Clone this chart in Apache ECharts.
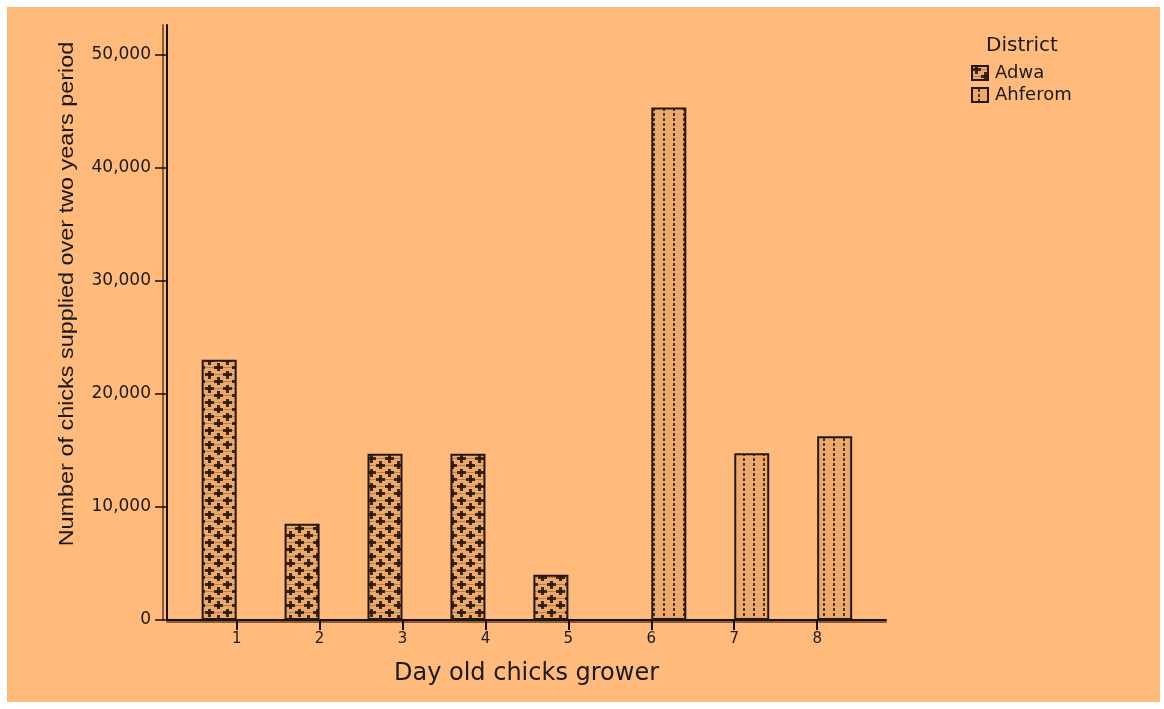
<!DOCTYPE html>
<html>
<head>
<meta charset="utf-8">
<script src="https://cdn.jsdelivr.net/npm/echarts@6/dist/echarts.min.js"></script>
<style>
  html, body { margin: 0; padding: 0; background: #ffffff; }
  #frame { position: absolute; left: 7px; top: 7px; width: 1153px; height: 695px; background: #FFBA7C; }
  #chart { width: 1153px; height: 695px; }
</style>
</head>
<body>
<div id="frame"><div id="chart"></div></div>
<script>
// Day old chick growers and the number of chicks each supplied over two years
const growers = [1, 2, 3, 4, 5, 6, 7, 8];
const districts = ['Adwa', 'Ahferom'];
const adwaGrowers = [1, 2, 3, 4, 5];
const adwaChicks = [23000, 8500, 14700, 14700, 4000];
const ahferomGrowers = [6, 7, 8];
const ahferomChicks = [45300, 14750, 16250];
const yTicks = [0, 10000, 20000, 30000, 40000, 50000];

const FILL = '#EBA96E';
const INK = '#24180e';

// Plus-sign fill used for Adwa bars
function crossPattern() {
  const c = document.createElement('canvas');
  c.width = 18; c.height = 14;
  const g = c.getContext('2d');
  g.fillStyle = FILL; g.fillRect(0, 0, 18, 14);
  // faint lattice behind the crosses
  g.fillStyle = 'rgba(90,55,25,0.35)';
  g.fillRect(0, 3, 18, 1);
  g.fillRect(0, 10, 18, 1);
  g.fillStyle = 'rgba(45,25,10,0.9)';
  [[4, 3], [13, 10]].forEach(([x, y]) => {
    g.fillRect(x - 4, y - 1, 9, 3);
    g.fillRect(x - 1, y - 4, 3, 9);
  });
  return c;
}
// Vertical dotted lines used for Ahferom bars
function dotPattern() {
  const c = document.createElement('canvas');
  c.width = 10; c.height = 5;
  const g = c.getContext('2d');
  g.fillStyle = FILL; g.fillRect(0, 0, 10, 5);
  g.fillStyle = 'rgba(55,30,12,0.85)';
  g.fillRect(6, 1, 2, 3);
  return c;
}

const chart = echarts.init(document.getElementById('chart'), null, { renderer: 'canvas' });
const tickFont = { fontFamily: 'DejaVu Sans', fontSize: 17, color: '#1a1a1a' };

chart.setOption({
  animation: false,
  backgroundColor: 'transparent',
  grid: { left: 160, right: 274, top: 18, bottom: 82 },
  title: {
    text: 'District', left: 974, top: 24,
    textStyle: { fontFamily: 'DejaVu Sans', fontSize: 20, fontWeight: 'normal', color: '#1a1a1a' }
  },
  legend: {
    orient: 'vertical', left: 959, top: 52,
    itemWidth: 16, itemHeight: 14, itemGap: 4,
    icon: 'rect',
    textStyle: { fontFamily: 'DejaVu Sans', fontSize: 18, lineHeight: 16, color: '#1a1a1a', padding: [0, 0, 0, 2] },
    data: districts
  },
  xAxis: {
    type: 'value', min: 0.16, max: 8.83,
    name: 'Day old chicks grower', nameLocation: 'middle', nameGap: 42,
    nameTextStyle: { fontFamily: 'DejaVu Sans', fontSize: 24, color: '#1a1a1a' },
    axisLine: { lineStyle: { color: '#111', width: 2, shadowColor: 'rgba(90,50,20,0.7)', shadowOffsetY: 2 } },
    axisTick: { show: true, customValues: growers, length: 10, inside: false, lineStyle: { color: '#111', width: 2 } },
    axisLabel: { customValues: growers, fontFamily: 'DejaVu Sans', fontSize: 15, color: '#1a1a1a', margin: 12 },
    splitLine: { show: false }
  },
  yAxis: {
    type: 'value', min: 0, max: 52600,
    axisLine: { show: true, lineStyle: { color: '#111', width: 2, shadowColor: 'rgba(90,50,20,0.7)', shadowOffsetX: -4 } },
    axisTick: { show: true, customValues: yTicks, length: 12, lineStyle: { color: '#111', width: 1.5 } },
    axisLabel: {
      customValues: yTicks, ...tickFont, margin: 16,
      formatter: v => v.toLocaleString('en-US')
    },
    splitLine: { show: false }
  },
  graphic: [{
    type: 'text', x: 60, y: 287, rotation: Math.PI / 2, scaleX: 1.17,
    style: {
      text: 'Number of chicks supplied over two years period',
      font: '20px "Liberation Sans"', fill: '#1a1a1a',
      align: 'center', verticalAlign: 'middle'
    }
  }],
  series: [
    {
      name: 'Adwa', type: 'bar', barWidth: 35, barGap: '0%',
      data: adwaGrowers.map((g, i) => [g, adwaChicks[i]]),
      itemStyle: { color: { image: crossPattern(), repeat: 'repeat' }, borderColor: INK, borderWidth: 2 }
    },
    {
      name: 'Ahferom', type: 'bar', barWidth: 35, barGap: '0%',
      data: ahferomGrowers.map((g, i) => [g, ahferomChicks[i]]),
      itemStyle: { color: { image: dotPattern(), repeat: 'repeat' }, borderColor: INK, borderWidth: 2 }
    }
  ]
});
</script>
</body>
</html>
